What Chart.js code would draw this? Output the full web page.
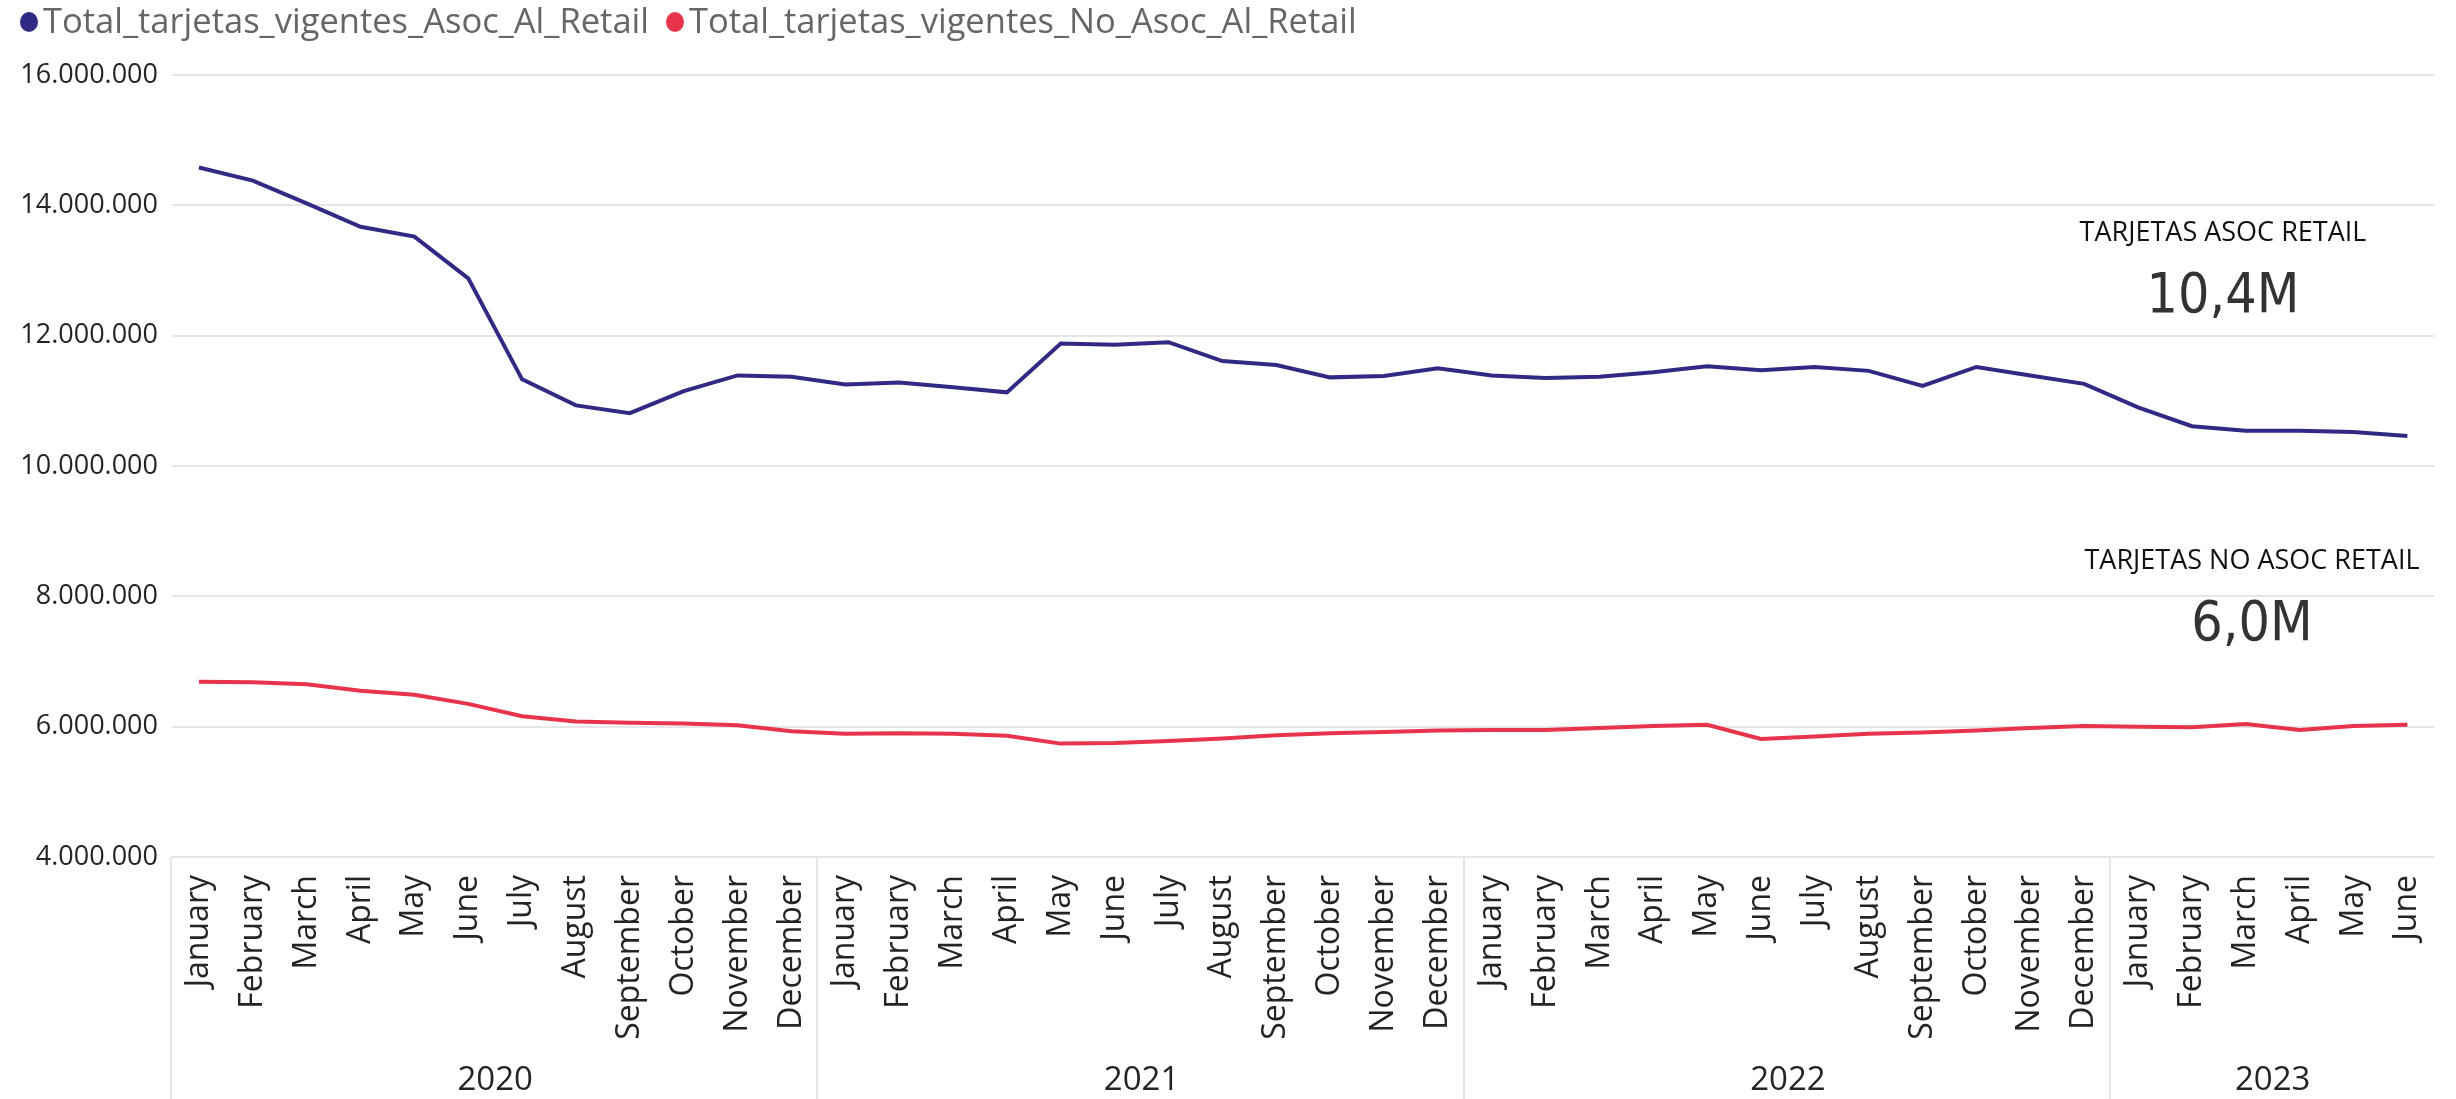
<!DOCTYPE html>
<html>
<head>
<meta charset="utf-8">
<script src="https://cdn.jsdelivr.net/npm/chart.js@4.4.0/dist/chart.umd.min.js"></script>
<style>
  html, body { margin: 0; padding: 0; background: #fff; }
  #wrap { width: 2456px; height: 1099px; position: relative; }
</style>
</head>
<body>
<div id="wrap"><canvas id="cards-chart" width="2456" height="1099"></canvas></div>
<script>
// month labels, grouped by year underneath
const months = [
  'January','February','March','April','May','June','July','August','September','October','November','December',
  'January','February','March','April','May','June','July','August','September','October','November','December',
  'January','February','March','April','May','June','July','August','September','October','November','December',
  'January','February','March','April','May','June'
];
const years = ['2020', '2021', '2022', '2023'];
const monthsPerYear = [12, 12, 12, 6];

const asocRetail = [
  14580000, 14380000, 14030000, 13670000, 13520000, 12880000, 11330000, 10930000, 10810000, 11150000, 11390000, 11370000,
  11250000, 11280000, 11210000, 11130000, 11880000, 11860000, 11900000, 11610000, 11550000, 11360000, 11380000, 11500000,
  11390000, 11350000, 11370000, 11440000, 11530000, 11470000, 11520000, 11460000, 11230000, 11520000, 11390000, 11260000,
  10900000, 10610000, 10540000, 10540000, 10520000, 10460000
];
const noAsocRetail = [
  6690000, 6680000, 6650000, 6550000, 6490000, 6350000, 6160000, 6080000, 6060000, 6050000, 6020000, 5930000,
  5890000, 5900000, 5890000, 5860000, 5740000, 5750000, 5780000, 5820000, 5870000, 5900000, 5920000, 5940000,
  5950000, 5950000, 5980000, 6010000, 6030000, 5810000, 5850000, 5890000, 5910000, 5940000, 5980000, 6010000,
  6000000, 5990000, 6040000, 5950000, 6010000, 6030000
];

const seriesNames = ['Total_tarjetas_vigentes_Asoc_Al_Retail', 'Total_tarjetas_vigentes_No_Asoc_Al_Retail'];
const kpiTitles = ['TARJETAS ASOC RETAIL', 'TARJETAS NO ASOC RETAIL'];
const kpiValues = ['10,4M', '6,0M'];

const FONT = '"Open Sans", "Segoe UI", sans-serif';
const KPI_FONT = '"Liberation Sans Narrow", "DejaVu Sans Condensed", sans-serif';
const GRID = '#e6e6e6';

function fmtDots(v) {
  return String(v).replace(/\B(?=(\d{3})+(?!\d))/g, '.');
}

// legend, year grouping and the KPI cards
const extras = {
  id: 'extras',
  afterDraw(chart) {
    const ctx = chart.ctx;
    const x = chart.scales.x;
    const area = chart.chartArea;
    ctx.save();

    // legend
    ctx.font = '34.5px ' + FONT;
    ctx.textBaseline = 'middle';
    let lx = 29;
    chart.data.datasets.forEach(ds => {
      ctx.fillStyle = ds.borderColor;
      ctx.beginPath();
      ctx.ellipse(lx, 22, 9, 10, 0, 0, Math.PI * 2);
      ctx.fill();
      ctx.fillStyle = '#666666';
      ctx.textAlign = 'left';
      ctx.fillText(ds.label, lx + 14, 23);
      lx += 14 + ctx.measureText(ds.label).width + 26;
    });

    // year separators + labels
    const half = (x.getPixelForValue(1) - x.getPixelForValue(0)) / 2;
    ctx.strokeStyle = GRID;
    ctx.lineWidth = 2;
    ctx.fillStyle = '#252423';
    ctx.font = '33px ' + FONT;
    ctx.textAlign = 'center';
    let start = 0;
    years.forEach((yr, i) => {
      const x0 = x.getPixelForValue(start) - half;
      const x1 = x.getPixelForValue(start + monthsPerYear[i] - 1) + half;
      ctx.beginPath();
      ctx.moveTo(Math.round(x0) - 1, area.bottom);
      ctx.lineTo(Math.round(x0) - 1, chart.height);
      ctx.stroke();
      ctx.fillText(yr, (x0 + x1) / 2, 1081);
      start += monthsPerYear[i];
    });

    // KPI cards
    const cards = [
      { cx: 2223, ty: 233, vy: 298 },
      { cx: 2252, ty: 561, vy: 626 }
    ];
    cards.forEach((c, i) => {
      ctx.fillStyle = '#111111';
      ctx.font = '27px ' + FONT;
      ctx.fillText(kpiTitles[i], c.cx, c.ty);
      ctx.fillStyle = '#333333';
      ctx.font = '55px ' + KPI_FONT;
      ctx.fillText(kpiValues[i], c.cx, c.vy);
    });
    ctx.restore();
  }
};

new Chart(document.getElementById('cards-chart'), {
  type: 'line',
  data: {
    labels: months,
    datasets: [
      {
        label: seriesNames[0],
        data: asocRetail,
        borderColor: '#312a85',
        borderWidth: 4,
        pointRadius: 0,
        tension: 0
      },
      {
        label: seriesNames[1],
        data: noAsocRetail,
        borderColor: '#e8344b',
        borderWidth: 4,
        pointRadius: 0,
        tension: 0
      }
    ]
  },
  options: {
    responsive: false,
    animation: false,
    layout: { padding: { top: 75, right: 20, left: 0, bottom: 0 } },
    plugins: {
      legend: { display: false },
      tooltip: { enabled: false }
    },
    scales: {
      x: {
        offset: true,
        grid: { display: false },
        border: { display: false },
        ticks: {
          autoSkip: false,
          minRotation: 90,
          maxRotation: 90,
          padding: 10,
          color: '#252423',
          font: { family: FONT, size: 32 }
        },
        afterFit(scale) { scale.height = 242; }
      },
      y: {
        min: 4000000,
        max: 16000000,
        ticks: {
          stepSize: 2000000,
          padding: 14,
          color: '#252423',
          font: { family: FONT, size: 27 },
          callback: v => fmtDots(v)
        },
        grid: { color: GRID, lineWidth: 2, drawTicks: false },
        border: { display: false },
        afterFit(scale) { scale.width = 172; }
      }
    }
  },
  plugins: [extras]
});
</script>
</body>
</html>
